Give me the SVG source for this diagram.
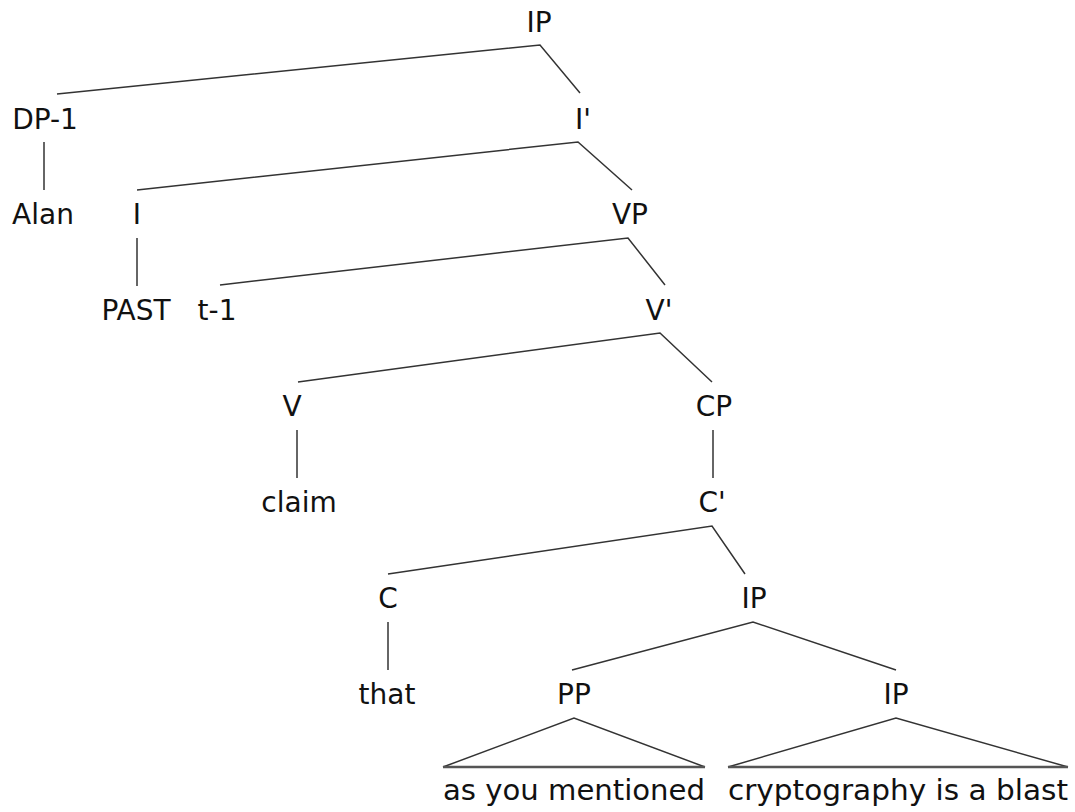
<svg xmlns="http://www.w3.org/2000/svg" width="1075" height="812" viewBox="0 0 1075 812">
<style>
text{font-family:"DejaVu Sans",sans-serif;font-size:28px;fill:#111;text-anchor:middle}
.e line,.e polyline{stroke:#333;stroke-width:1.5;fill:none}
.e .base{stroke:#555;stroke-width:2.5}
</style>
<rect width="1075" height="812" fill="#fff"/>
<g class="e" id="connectors">
<polyline points="57,94 540,45 580,93"/>
<line x1="44" y1="142" x2="44" y2="190"/>
<polyline points="137,190 578,142 632,190"/>
<line x1="137" y1="238" x2="137" y2="286"/>
<polyline points="220,285 628,238 665,285"/>
<polyline points="298,382 660,333 712,382"/>
<line x1="297" y1="430" x2="297" y2="478"/>
<line x1="713" y1="430" x2="713" y2="478"/>
<polyline points="388,574 712,526 745,574"/>
<line x1="388" y1="622" x2="388" y2="670"/>
<polyline points="572,670 753,622 896,670"/>
<polyline points="443,767 574,718 705,767"/>
<line class="base" x1="443" y1="767" x2="705" y2="767"/>
<polyline points="728,767 896,718 1068,767"/>
<line class="base" x1="728" y1="767" x2="1068" y2="767"/>
</g>
<g id="n-ip"><text x="539" y="32">IP</text></g>
<g id="n-dp1"><text x="45" y="129">DP-1</text></g>
<g id="n-ibar"><text x="583" y="129">I'</text></g>
<g id="n-alan"><text x="43" y="224">Alan</text></g>
<g id="n-i"><text x="137" y="224">I</text></g>
<g id="n-vp"><text x="630" y="224">VP</text></g>
<g id="n-past"><text x="136" y="320">PAST</text></g>
<g id="n-t1"><text x="217" y="320">t-1</text></g>
<g id="n-vbar"><text x="659" y="320">V'</text></g>
<g id="n-v"><text x="292" y="416">V</text></g>
<g id="n-cp"><text x="714" y="416">CP</text></g>
<g id="n-claim"><text x="299" y="512">claim</text></g>
<g id="n-cbar"><text x="712" y="512">C'</text></g>
<g id="n-c"><text x="388" y="608">C</text></g>
<g id="n-ip2"><text x="754" y="608">IP</text></g>
<g id="n-that"><text x="387" y="704">that</text></g>
<g id="n-pp"><text x="574" y="704">PP</text></g>
<g id="n-ip3"><text x="896" y="704">IP</text></g>
<g id="n-asyou"><text x="574" y="800" textLength="262" lengthAdjust="spacingAndGlyphs">as you mentioned</text></g>
<g id="n-crypto"><text x="898" y="800" textLength="340" lengthAdjust="spacingAndGlyphs">cryptography is a blast</text></g>
</svg>
